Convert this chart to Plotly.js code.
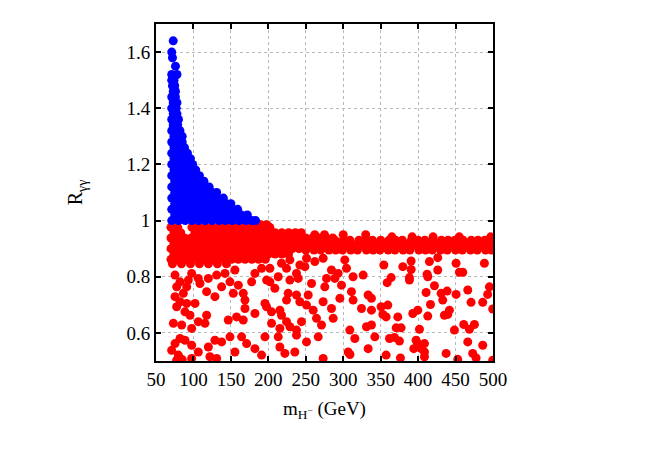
<!DOCTYPE html>
<html>
<head>
<meta charset="utf-8">
<script src="https://cdn.plot.ly/plotly-3.0.1.min.js"></script>
<style>
  html, body { margin: 0; padding: 0; background: #fff; }
  #plot { width: 660px; height: 462px; }
</style>
</head>
<body>
<div id="plot"></div>
<script>
// Blue points (R > 1): each row is [R, [masses...]]
const blueRows = [
  [1.00, [71, 80, 89, 98, 107, 116, 125, 134, 143, 152, 161, 170, 178, 183]],
  [1.02, [75, 84, 93, 102, 111, 120, 129, 138, 147, 156, 164, 172]],
  [1.04, [71, 80, 89, 98, 107, 116, 125, 134, 143, 151, 159]],
  [1.06, [75, 84, 93, 102, 111, 120, 129, 137, 144, 150]],
  [1.08, [71, 80, 89, 98, 107, 116, 124, 132, 140]],
  [1.10, [75, 84, 93, 102, 110, 118, 125, 131]],
  [1.12, [71, 80, 89, 97, 105, 113, 121]],
  [1.14, [75, 83, 91, 99, 107, 114]],
  [1.16, [71, 79, 87, 95, 102, 108]],
  [1.18, [74, 82, 90, 97, 103]],
  [1.20, [71, 79, 87, 94, 99]],
  [1.22, [74, 82, 89, 96]],
  [1.24, [71, 78, 85, 92]],
  [1.26, [74, 81, 88]],
  [1.28, [71, 78, 85]],
  [1.30, [74, 80, 85]],
  [1.32, [71, 77, 82]],
  [1.34, [73, 79]],
  [1.36, [71, 77, 80]],
  [1.38, [73, 78]],
  [1.40, [71, 77]],
  [1.42, [73, 78]],
  [1.44, [71, 76]],
  [1.46, [73, 76]],
  [1.48, [72, 75]],
  [1.50, [71, 74]],
  [1.52, [71, 78]],
  [1.55, [76]],
  [1.58, [72]],
  [1.60, [71]],
  [1.64, [73]]
];

// Red dense band around R ~ 0.9, rows of [R, [masses...]]
const redBandRows = [
  [0.976, [70, 79, 98, 106, 115, 124, 133, 141, 150, 159, 168, 177, 186, 194, 202]],
  [0.985, [190, 198]],
  [0.957, [74, 83, 102, 111, 119, 128, 137, 146, 155, 164, 173, 182, 191, 200, 209, 218, 227, 236, 244]],
  [0.938, [70, 79, 88, 97, 106, 115, 124, 133, 142, 151, 160, 169, 178, 187, 196, 205, 214, 223, 232, 241, 250, 259, 268, 277, 286]],
  [0.919, [74, 83, 92, 101, 110, 119, 128, 137, 146, 155, 164, 173, 182, 191, 200, 209, 218, 227, 236, 245, 253]],
  [0.900, [70, 79, 88, 97, 106, 115, 124, 133, 142, 151, 160, 169, 178, 187, 196, 205, 214, 223, 232, 241, 250]],
  [0.881, [74, 83, 92, 101, 110, 119, 128, 137, 146, 155, 164, 173, 182, 191, 200, 209, 218, 227]],
  [0.862, [70, 79, 88, 97, 106, 115, 124, 133, 142, 151, 160, 169, 178, 187, 196]],
  [0.846, [72, 84, 96, 108, 120, 132, 144]],
  [0.930, [251, 260, 271, 280, 289, 300, 309, 321, 330, 339, 350, 361, 370, 379, 391, 400, 409, 420, 431, 440, 449, 460, 471, 480, 489, 498]],
  [0.912, [255, 266, 275, 284, 295, 305, 314, 325, 335, 344, 355, 365, 374, 385, 396, 405, 414, 425, 435, 445, 454, 465, 476, 485, 494]],
  [0.895, [250, 261, 270, 281, 290, 299, 310, 319, 331, 340, 349, 360, 369, 380, 389, 401, 410, 419, 430, 439, 450, 459, 470, 479, 490, 498]],
  [0.950, [262, 275, 300, 330]],
  [0.942, [365, 392, 420, 455, 497]]
];

// Red scattered points below the band, [mass, R]
const redScatter = [
  [75.4, 0.806], [82.1, 0.782], [93.2, 0.788], [97.6, 0.812], [91.0, 0.764], [77.6, 0.764],
  [86.5, 0.741], [75.4, 0.729], [82.1, 0.711], [91.0, 0.705], [77.6, 0.693], [88.7, 0.675],
  [95.4, 0.663], [102.1, 0.705], [108.7, 0.776], [106.5, 0.794], [119.9, 0.794], [117.6, 0.747],
  [128.7, 0.729], [137.6, 0.764], [131.0, 0.806], [142.1, 0.812], [155.4, 0.824], [148.8, 0.782],
  [153.2, 0.741], [166.5, 0.741], [168.8, 0.717], [159.9, 0.770], [177.7, 0.782], [182.1, 0.812],
  [191.0, 0.830], [197.7, 0.788], [195.5, 0.705], [182.1, 0.669], [168.8, 0.687], [157.6, 0.657],
  [146.5, 0.646], [166.5, 0.646], [117.6, 0.663], [106.5, 0.640], [115.4, 0.634], [97.6, 0.616],
  [84.3, 0.628], [73.2, 0.634], [75.4, 0.562], [82.1, 0.580], [70.9, 0.538], [79.8, 0.521],
  [88.7, 0.574], [97.6, 0.556], [106.5, 0.532], [119.9, 0.550], [128.7, 0.574], [131.0, 0.509],
  [137.6, 0.568], [155.4, 0.532], [148.8, 0.586], [164.3, 0.586], [171.0, 0.562], [182.1, 0.544],
  [195.5, 0.586], [191.0, 0.521], [97.6, 0.509], [77.6, 0.503], [85.0, 0.505], [122.0, 0.515],
  [202.1, 0.830], [217.6, 0.848], [228.8, 0.860], [224.3, 0.830], [242.1, 0.842], [237.6, 0.812],
  [251.0, 0.866], [248.8, 0.836], [213.2, 0.800], [202.1, 0.782], [208.7, 0.759], [228.8, 0.788],
  [239.9, 0.794], [262.1, 0.854], [273.2, 0.866], [284.3, 0.824], [293.2, 0.812], [302.1, 0.860],
  [304.4, 0.830], [313.2, 0.800], [326.6, 0.806], [277.7, 0.794], [288.8, 0.794], [297.7, 0.770],
  [257.7, 0.776], [275.4, 0.764], [226.5, 0.741], [237.6, 0.735], [253.2, 0.735], [224.3, 0.717],
  [242.1, 0.711], [251.0, 0.699], [259.9, 0.681], [273.2, 0.711], [284.3, 0.687], [295.5, 0.723],
  [311.0, 0.747], [313.2, 0.717], [333.3, 0.735], [337.7, 0.723], [197.6, 0.693], [204.3, 0.675],
  [215.4, 0.681], [204.3, 0.634], [217.6, 0.663], [224.3, 0.640], [228.8, 0.622], [215.4, 0.616],
  [237.6, 0.610], [244.3, 0.640], [264.3, 0.652], [271.0, 0.628], [286.6, 0.652], [324.4, 0.687],
  [337.7, 0.681], [331.0, 0.622], [337.7, 0.628], [308.8, 0.610], [315.5, 0.580], [342.2, 0.586],
  [213.2, 0.586], [237.6, 0.592], [251.0, 0.568], [266.6, 0.586], [215.4, 0.550], [222.1, 0.527],
  [235.4, 0.532], [306.6, 0.532], [333.3, 0.544], [273.2, 0.509], [309.0, 0.523],
  [354.2, 0.842], [379.6, 0.836], [390.7, 0.856], [390.7, 0.826], [415.1, 0.854], [426.2, 0.868],
  [426.2, 0.824], [412.0, 0.809], [412.9, 0.800], [450.7, 0.848], [455.2, 0.816], [459.6, 0.816],
  [488.5, 0.848], [388.4, 0.797], [388.4, 0.788], [364.0, 0.797], [358.7, 0.779], [421.8, 0.768],
  [410.7, 0.744], [430.7, 0.741], [438.7, 0.749], [450.7, 0.737], [416.5, 0.701], [432.9, 0.717],
  [359.5, 0.699], [350.6, 0.693], [352.9, 0.666], [357.3, 0.657], [372.9, 0.657], [392.9, 0.669],
  [399.6, 0.681], [412.9, 0.660], [435.1, 0.663], [439.6, 0.666], [441.8, 0.681], [466.3, 0.753],
  [470.7, 0.709], [486.3, 0.709], [492.9, 0.737], [495.2, 0.764], [499.6, 0.685], [370.7, 0.618],
  [377.3, 0.618], [401.8, 0.613], [448.5, 0.610], [460.9, 0.630], [468.5, 0.613], [475.2, 0.630],
  [361.8, 0.580], [368.4, 0.584], [375.1, 0.571], [397.3, 0.574], [399.6, 0.562], [408.5, 0.562],
  [394.2, 0.544], [404.0, 0.544], [408.5, 0.532], [408.5, 0.515], [466.3, 0.568], [486.3, 0.556],
  [357.3, 0.521], [376.4, 0.511], [437.4, 0.527], [472.9, 0.527], [477.4, 0.511], [499.6, 0.503],
  [452.9, 0.506]
];

const xTicks = [50, 100, 150, 200, 250, 300, 350, 400, 450, 500];
const yTicks = [0.6, 0.8, 1, 1.2, 1.4, 1.6];
const yTickText = ["0.6", "0.8", "1", "1.2", "1.4", "1.6"];

// flatten rows into x / y arrays
function fromRows(rows) {
  const x = [], y = [];
  rows.forEach(([r, masses]) => masses.forEach((m) => { x.push(m); y.push(r); }));
  return { x, y };
}

const blue = fromRows(blueRows);
const band = fromRows(redBandRows);
const redX = band.x.concat(redScatter.map((p) => p[0]));
const redY = band.y.concat(redScatter.map((p) => p[1]));

const FONT = "Liberation Serif, Times New Roman, serif";

const redTrace = {
  x: redX,
  y: redY,
  type: "scatter",
  mode: "markers",
  marker: { color: "#ff0000", size: 9, line: { width: 0 } },
  hoverinfo: "skip",
};

const blueTrace = {
  x: blue.x,
  y: blue.y,
  type: "scatter",
  mode: "markers",
  marker: { color: "#0000ff", size: 9, line: { width: 0 } },
  hoverinfo: "skip",
};

const axisCommon = {
  showline: true,
  linecolor: "#000",
  linewidth: 2,
  mirror: "ticks",
  ticks: "inside",
  ticklen: 5,
  tickwidth: 2,
  tickcolor: "#000",
  showgrid: true,
  gridcolor: "#b8b8b8",
  gridwidth: 1,
  griddash: "dot",
  zeroline: false,
  tickfont: { family: FONT, size: 19, color: "#000" },
};

const layout = {
  width: 660,
  height: 462,
  margin: { l: 156, r: 167, t: 24, b: 101 },
  paper_bgcolor: "#fff",
  plot_bgcolor: "#fff",
  showlegend: false,
  xaxis: Object.assign({}, axisCommon, {
    range: [50, 500],
    tickvals: xTicks,
    ticktext: xTicks.map(String),
    title: { text: "m<sub>H<sup>−</sup></sub> (GeV)", font: { family: FONT, size: 19, color: "#000" }, standoff: 13 },
  }),
  yaxis: Object.assign({}, axisCommon, {
    range: [0.5, 1.7],
    tickvals: yTicks,
    ticktext: yTickText,
    title: { text: "R<sub>γγ</sub>", font: { family: FONT, size: 20, color: "#000" }, standoff: 38 },
  }),
};

Plotly.newPlot("plot", [redTrace, blueTrace], layout, { displayModeBar: false, staticPlot: true });
</script>
</body>
</html>
